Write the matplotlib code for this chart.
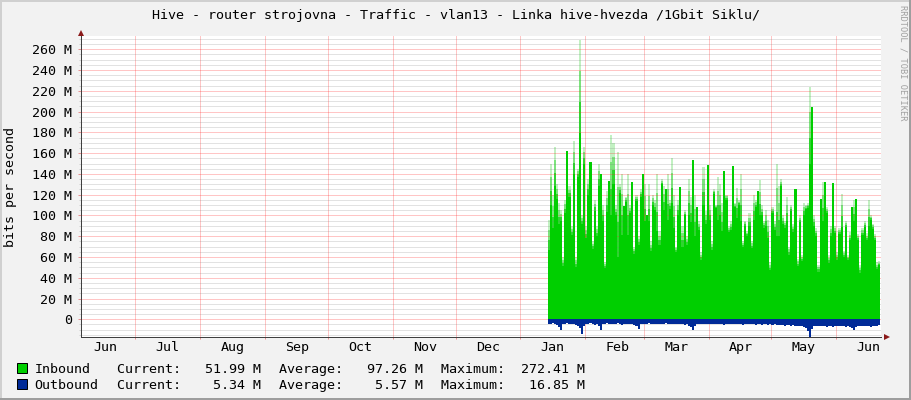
import datetime as dt
import matplotlib
matplotlib.use("Agg")
import matplotlib.pyplot as plt
import matplotlib.dates as mdates
from matplotlib.patches import Rectangle
from matplotlib.lines import Line2D
from matplotlib.ticker import MultipleLocator
import numpy as np

W, H = 911, 400

title = "Hive - router strojovna - Traffic - vlan13 - Linka hive-hvezda /1Gbit Siklu/"
ylabel = "bits per second"
watermark = "RRDTOOL / TOBI OETIKER"

# visible time window and first day with data
view_start = dt.datetime(2022, 6, 4, 21)
view_end = dt.datetime(2023, 6, 22, 5)
first_day = dt.datetime(2023, 1, 14)

month_names = ["Jun", "Jul", "Aug", "Sep", "Oct", "Nov", "Dec",
               "Jan", "Feb", "Mar", "Apr", "May", "Jun"]
month_firsts = [dt.datetime(2022, 6, 1), dt.datetime(2022, 7, 1), dt.datetime(2022, 8, 1),
                dt.datetime(2022, 9, 1), dt.datetime(2022, 10, 1), dt.datetime(2022, 11, 1),
                dt.datetime(2022, 12, 1), dt.datetime(2023, 1, 1), dt.datetime(2023, 2, 1),
                dt.datetime(2023, 3, 1), dt.datetime(2023, 4, 1), dt.datetime(2023, 5, 1),
                dt.datetime(2023, 6, 1)]

# inbound, Mbit/s per day: solid part and faint peak
inbound = [67, 110, 88, 128, 116, 92, 95, 51, 102, 162,
           118, 81, 140, 50, 137, 179, 92, 150, 78, 120,
           151, 68, 104, 80, 128, 140, 95, 49, 103, 133,
           100, 130, 100, 60, 122, 81, 109, 113, 81, 102,
           132, 63, 114, 72, 118, 140, 95, 100, 95, 66,
           110, 105, 85, 72,
           130, 105, 125, 96, 106, 112, 88, 65, 100, 127,
           70, 100, 72, 100, 94, 153, 80, 108, 86, 57,
           110, 92, 149, 96, 67, 121, 107, 96, 100, 85,
           143, 115, 84, 86, 148, 108, 98, 110, 95, 70,
           90, 80, 90, 69, 96, 108, 124, 100, 100, 88,
           90, 78,
           47, 102, 86, 80, 80, 128, 92, 88, 95, 62,
           104, 84, 125, 51, 94, 56, 100, 106, 107, 150,
           204, 90, 80, 46, 116, 95, 132, 102, 54, 80,
           131, 83, 57, 82, 89, 60, 89, 57, 76, 108,
           95, 116, 76, 45, 81, 89, 76, 90, 96, 87,
           76, 48, 52]
inbound_peak = [96, 150, 120, 166, 130, 112, 105, 60, 115, 162,
                128, 90, 172, 60, 145, 269, 100, 166, 90, 135,
                151, 75, 115, 90, 150, 140, 110, 55, 124, 133,
                177, 170, 110, 161, 130, 140, 109, 118, 140, 110,
                132, 70, 120, 80, 125, 140, 130, 100, 130, 75,
                120, 115, 140, 85,
                135, 128, 125, 140, 115, 155, 120, 70, 115, 127,
                90, 105, 80, 135, 118, 153, 120, 108, 95, 65,
                147, 104, 149, 110, 75, 125, 110, 137, 130, 112,
                143, 120, 90, 95, 148, 112, 126, 115, 140, 75,
                95, 85, 102, 75, 120, 115, 124, 134, 110, 95,
                105, 96,
                55, 108, 95, 150, 128, 135, 100, 95, 118, 70,
                110, 92, 125, 58, 100, 62, 112, 110, 112, 224,
                204, 100, 88, 52, 116, 132, 132, 108, 62, 90,
                131, 90, 65, 88, 121, 66, 95, 62, 84, 108,
                115, 116, 82, 52, 88, 95, 83, 115, 100, 92,
                82, 55, 56]
# outbound, Mbit/s per day (drawn below zero)
outbound = [4.5, 5, 4, 4.8, 5.5, 7, 10, 5, 4.5, 4,
            5, 4.2, 4.8, 5.5, 6, 8, 14.5, 6, 4.5, 5,
            4, 4.6, 5.2, 4.8, 6.5, 10, 5, 4.4, 4, 4.8,
            4.2, 5, 4.5, 4, 4.8, 5.2, 4.6, 4.2, 5, 4.4,
            4.8, 5.5, 6.5, 9, 5, 4.5, 4.2, 4.8, 4, 4.5,
            4.2, 4.6, 5, 4.4, 4.8, 4.2, 4, 4.5, 5, 4.6,
            4.2, 4.8, 5, 4.4, 4.6, 5.2, 4.8, 6, 7.5, 10.5,
            6, 4.8, 4.4, 5, 4.6, 4.2, 4.8, 5, 4.5, 4.2,
            4.6, 5, 4.4, 4.8, 5.2, 4.6, 4.4, 5, 4.8, 4.5,
            5, 4.6, 4.8, 5.2, 4.4, 4.6, 5, 4.8, 4.5, 5.2,
            4.8, 5, 5.5, 4.6, 5, 5.2, 4.8, 5.5, 5, 5.6,
            5.2, 5.8, 5.4, 6, 5.5, 5.8, 6.2, 5.6, 6, 6.4,
            6, 6.5, 7, 8.5, 11, 16.85, 9, 6.5, 6, 6.4,
            6.8, 6, 6.4, 7, 6.2, 6.6, 7, 6.4, 6, 6.8,
            6.2, 6.6, 7, 6.4, 7.5, 8.5, 10, 7, 6.4, 6,
            6.4, 6.8, 6, 6.5, 7, 6.2, 6.6, 6, 5.34]

legend_names = ["Inbound", "Outbound"]
legend_colors = ["#00CF00", "#002A97"]
current = [51.99, 5.34]
average = [97.26, 5.57]
maximum = [272.41, 16.85]

y_ticks = list(range(0, 261, 20))

plt.rcParams['font.family'] = ['DejaVu Sans Mono']
fs = 9.6


def fx(x):
    return x / W


def fy(y):
    return 1 - y / H


fig = plt.figure(figsize=(W / 100, H / 100), dpi=100, facecolor="#F2F2F2")
ax = fig.add_axes([fx(80.7), fy(336.8), 800 / W, 300.4 / H])
ax.set_facecolor("white")

days = [mdates.date2num(first_day + dt.timedelta(days=i)) for i in range(len(inbound))]
xe = np.array(days + [days[-1] + 1])
s = np.array(inbound + [inbound[-1]], dtype=float)
p = np.array(inbound_peak + [inbound_peak[-1]], dtype=float)
o = np.array(outbound + [outbound[-1]], dtype=float)

# faint antialiased peaks above the solid area
tip_colors = ["#2ED62E", "#7CE47C", "#C2F1C2"]
for k in range(3):
    lo = s + (p - s) * k / 3
    hi = s + (p - s) * (k + 1) / 3
    ax.fill_between(xe, lo, hi, step="post", color=tip_colors[k], linewidth=0, zorder=2)
ax.fill_between(xe, 0, s, step="post", color=legend_colors[0], linewidth=0, zorder=3)
ax.fill_between(xe, 0, -o, step="post", color=legend_colors[1], linewidth=0, zorder=3)

ax.set_xlim(mdates.date2num(view_start), mdates.date2num(view_end))
ax.set_ylim(-16.85, 272.41)

# grid drawn over the areas like rrdtool does (dotted 1px, shown as its average tone)
ax.set_yticks(y_ticks)
ax.set_yticklabels([("%d M" % v) if v else "0" for v in y_ticks], fontsize=fs)
ax.yaxis.set_minor_locator(MultipleLocator(5))
ax.set_xticks([mdates.date2num(d) for d in month_firsts[1:]])
ax.set_xticklabels([])
ax.grid(axis="y", which="minor", color="#707070", alpha=0.2, linewidth=0.72, zorder=5)
ax.grid(axis="both", which="major", color="#FF2020", alpha=0.26, linewidth=0.72, zorder=6)
ax.set_axisbelow(False)
ax.tick_params(axis="y", which="major", length=3 * 0.72, width=0.72, color="#E89090", pad=3.8)
ax.tick_params(axis="y", which="minor", length=1.5, width=0.72, color="#D0D0D0")
ax.tick_params(axis="x", which="major", length=2 * 0.72, width=0.72, color="#E89090")

for name, d in zip(month_names, month_firsts):
    xm = mdates.date2num(d) + 15.5
    ax.text(xm, -(351 - 336.8) / 300.4, name, transform=ax.get_xaxis_transform(),
            ha="center", va="baseline", fontsize=fs, color="black")

for side in ["top", "right"]:
    ax.spines[side].set_visible(False)
for side in ["left", "bottom"]:
    ax.spines[side].set_color("#404040")
    ax.spines[side].set_linewidth(0.72)
    ax.spines[side].set_zorder(7)

# axis arrows
ax.plot([0], [1.012], marker="^", markersize=4.5, color="#8B1A1A", transform=ax.transAxes,
        clip_on=False, zorder=8, markeredgewidth=0)
ax.plot([1.008], [0], marker=">", markersize=4.5, color="#8B1A1A", transform=ax.transAxes,
        clip_on=False, zorder=8, markeredgewidth=0)

fig.text(fx(455.5), fy(19), title, ha="center", va="baseline", fontsize=fs, color="black")
fig.text(fx(10.5), fy(186.6), ylabel, ha="center", va="center", rotation=90, fontsize=fs)
fig.text(fx(902.5), fy(5), watermark, ha="center", va="top", rotation=270, fontsize=6.2,
         color="#A0A0A0")

# legend
row_base = [373, 389]
for i in range(2):
    yb = row_base[i]
    fig.patches.append(Rectangle((fx(17.3), fy(yb - 0.3)), 9.4 / W, 9.4 / H,
                                 transform=fig.transFigure, facecolor=legend_colors[i],
                                 edgecolor="black", linewidth=0.72))
    fig.text(fx(34.3), fy(yb), legend_names[i], ha="left", va="baseline", fontsize=fs)
    fig.text(fx(116.7), fy(yb), "Current:%8.2f M" % current[i], ha="left", va="baseline", fontsize=fs)
    fig.text(fx(279.3), fy(yb), "Average:%8.2f M" % average[i], ha="left", va="baseline", fontsize=fs)
    fig.text(fx(440.7), fy(yb), "Maximum:%8.2f M" % maximum[i], ha="left", va="baseline", fontsize=fs)

# canvas border
fig.lines.append(Line2D([0, 1], [fy(0.8), fy(0.8)], transform=fig.transFigure, color="#D0D0D0", linewidth=1.44))
fig.lines.append(Line2D([fx(0.8), fx(0.8)], [0, 1], transform=fig.transFigure, color="#D0D0D0", linewidth=1.44))
fig.lines.append(Line2D([0, 1], [fy(399.2), fy(399.2)], transform=fig.transFigure, color="#9E9E9E", linewidth=1.44))
fig.lines.append(Line2D([fx(910.2), fx(910.2)], [0, 1], transform=fig.transFigure, color="#9E9E9E", linewidth=1.44))

fig.savefig("out.png", dpi=100, facecolor=fig.get_facecolor())
